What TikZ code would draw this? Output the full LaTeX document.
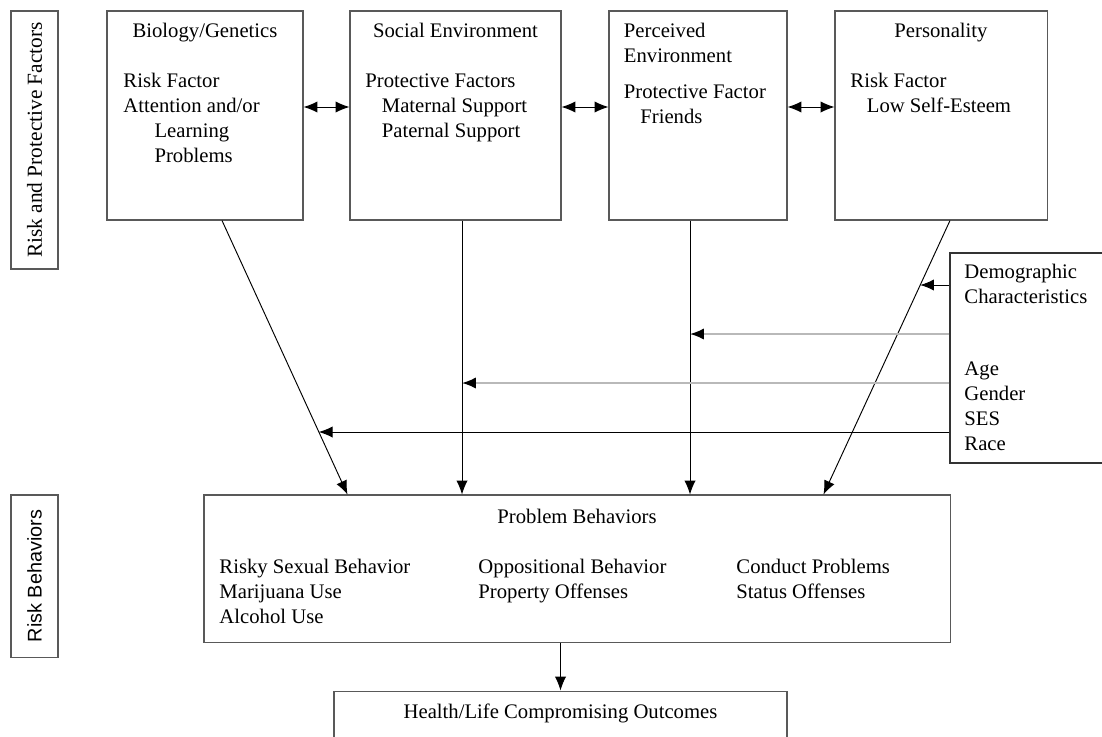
\documentclass[tikz,border=0pt]{standalone}
\usepackage{fontspec}
\setmainfont{Liberation Serif}
\newfontfamily\labelsans{Liberation Sans}
\usetikzlibrary{arrows.meta,calc}

\begin{document}
\begin{tikzpicture}[x=0.58pt, y=-0.58pt, line width=0.55pt,
	font=\fontsize{12}{14.5}\selectfont,
	>={Latex[length=8pt,width=6.5pt]},
	box/.style={draw=black!65, line width=0.6pt, inner sep=0pt},
	txt/.style={align=left, anchor=north west, inner sep=0pt},
	fade/.style={draw=gray!55, line width=1pt, -{Latex[length=8pt,width=6.5pt,black]}}]
	\useasboundingbox (0,0) rectangle (1102,736);

	% side labels
	\node[box, rotate=90, minimum width=258*0.58pt, minimum height=47*0.58pt, font=\fontsize{12.4}{14.5}\selectfont] (side1) at (34.5,140) {Risk and Protective Factors};
	\node[box, rotate=90, minimum width=162*0.58pt, minimum height=47*0.58pt, font=\labelsans\fontsize{11.5}{14}\selectfont] (side2) at (34.5,576) {Risk Behaviors};

	% factor boxes
	\node[box, minimum width=196*0.58pt, minimum height=209*0.58pt] (bio) at (205,115.5) {};
	\node[box, minimum width=211*0.58pt, minimum height=209*0.58pt] (soc) at (455.5,115.5) {};
	\node[box, minimum width=178*0.58pt, minimum height=209*0.58pt] (per) at (698,115.5) {};
	\node[box, minimum width=212*0.58pt, minimum height=209*0.58pt] (pers) at (941,115.5) {};
	\node[box, draw=black!80, line width=0.8pt, minimum width=160*0.58pt, minimum height=210*0.58pt] (demo) at (1030,358) {};
	\node[box, minimum width=746*0.58pt, minimum height=147*0.58pt] (prob) at (577,568.5) {};
	\node[box, minimum width=453*0.58pt, minimum height=69*0.58pt] (health) at (560.5,725.5) {};

	% texts
	\node[anchor=base] (biot) at (205,37) {Biology/Genetics};
	\node[txt] (bioh) at (123,73) {Risk Factor\\Attention and/or\\\hspace{18pt}Learning\\\hspace{18pt}Problems};
	\node[anchor=base] (soct) at (455.5,37) {Social Environment};
	\node[txt] (soch) at (365,73) {Protective Factors\\\hspace{9.5pt}Maternal Support\\\hspace{9.5pt}Paternal Support};
	\node[txt] (perh) at (623.5,23) {Perceived\\Environment\\[6pt]Protective Factor\\\hspace{9.5pt}Friends};
	\node[anchor=base] (perst) at (941,37) {Personality};
	\node[txt] (persh) at (850,73) {Risk Factor\\\hspace{9.5pt}Low Self-Esteem};
	\node[txt] (demoh) at (964,264) {Demographic\\Characteristics\\[27pt]Age\\Gender\\SES\\Race};
	\node[anchor=base] (probt) at (577,523) {Problem Behaviors};
	\node[txt] (prob1) at (219,559) {Risky Sexual Behavior\\Marijuana Use\\Alcohol Use};
	\node[txt] (prob2) at (478,559) {Oppositional Behavior\\Property Offenses};
	\node[txt] (prob3) at (736,559) {Conduct Problems\\Status Offenses};
	\node[anchor=base] (healtht) at (560.5,718) {Health/Life Compromising Outcomes};

	% links between factors
	\draw[<->] ($(bio.east)+(0,-8.5)$) -- ($(soc.west)+(0,-8.5)$);
	\draw[<->] ($(soc.east)+(0,-8.5)$) -- ($(per.west)+(0,-8.5)$);
	\draw[<->] ($(per.east)+(0,-8.5)$) -- ($(pers.west)+(0,-8.5)$);

	% paths down to problem behaviors
	\coordinate (bioout) at ($(bio.south)+(17,0)$);
	\coordinate (bioin) at ($(prob.north west)+(144,0)$);
	\coordinate (socout) at ($(soc.south)+(6.5,0)$);
	\coordinate (perout) at ($(per.south)+(-8,0)$);
	\coordinate (persout) at ($(pers.south)+(9,0)$);
	\coordinate (persin) at ($(prob.north west)+(620,0)$);
	\draw[->] (bioout) -- (bioin);
	\draw[->] (socout) -- (socout |- prob.north);
	\draw[->] (perout) -- (perout |- prob.north);
	\draw[->] (persout) -- (persin);
	\draw[->] (prob.south -| health.north) -- (health.north);

	% demographic influences
	\coordinate (d1) at ($(demo.west)+(0,-73)$);
	\coordinate (d2) at ($(demo.west)+(0,-24)$);
	\coordinate (d3) at ($(demo.west)+(0,25)$);
	\coordinate (d4) at ($(demo.west)+(0,74)$);
	\path (persout) -- (persin) coordinate[pos=0.236] (persx);
	\path (bioout) -- (bioin) coordinate[pos=0.771] (biox);
	\draw[->] (d1) -- (d1 -| persx);
	\draw[fade] (d2) -- (d2 -| perout);
	\draw[fade] (d3) -- (d3 -| socout);
	\draw[->] (d4) -- (d4 -| biox);
\end{tikzpicture}
\end{document}
